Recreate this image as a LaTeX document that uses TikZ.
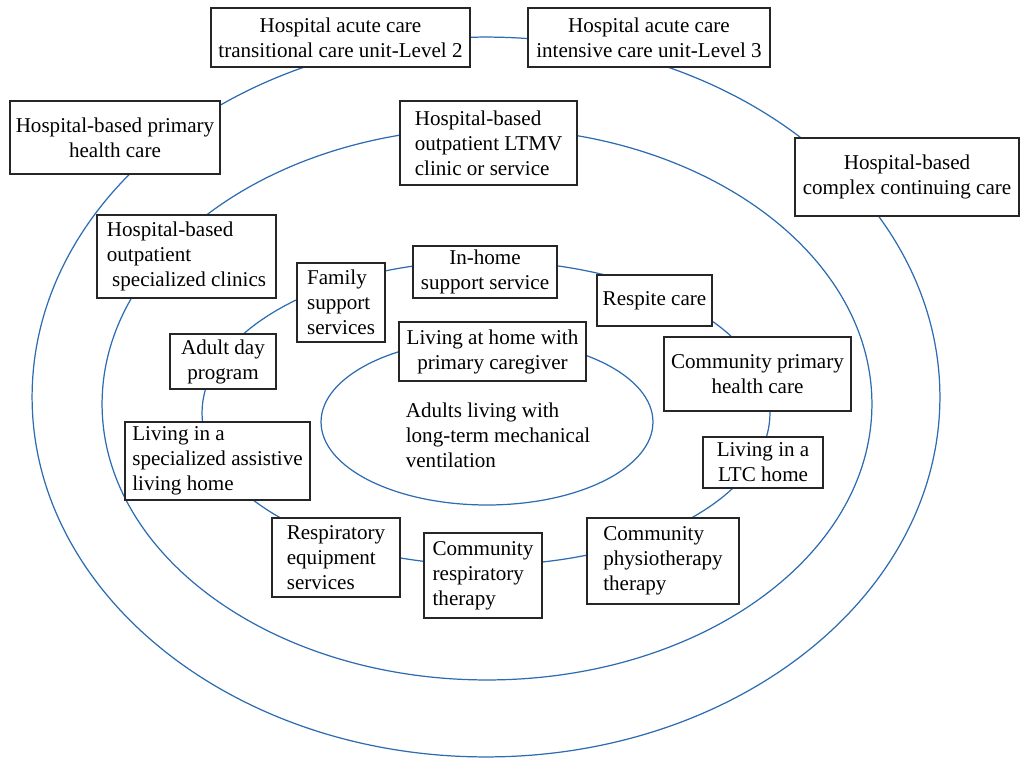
\documentclass[tikz,border=0pt]{standalone}
\usepackage{fontspec}
\setmainfont{Liberation Serif}
\usetikzlibrary{shapes.geometric}
\definecolor{ringblue}{RGB}{46,108,178}

\begin{document}
\begin{tikzpicture}[x=0.02cm,y=-0.02cm,
        font=\fontsize{12}{14.2}\selectfont,
        ring/.style={draw=ringblue,line width=0.7pt,ellipse,inner sep=0pt},
        box/.style={draw=black!85,line width=0.8pt,fill=white,inner sep=2pt}]
    \useasboundingbox (0,0) rectangle (1020,758);

    % Rings
    \node[ring,minimum width=18.16cm,minimum height=14.4cm] (outer) at (486,397) {};
    \node[ring,minimum width=15.4cm,minimum height=11.04cm] (middle) at (487,404) {};
    \node[ring,minimum width=11.36cm,minimum height=6.08cm] (circle) at (486,413) {};
    \node[ring,minimum width=6.64cm,minimum height=3.32cm] (core) at (487,422) {};

    % Outer ring
    \node[box,minimum width=5.18cm,minimum height=1.18cm,align=center] (tcu) at (340.5,37.5)
        {Hospital acute care\\transitional care unit-Level 2};
    \node[box,minimum width=4.84cm,minimum height=1.18cm,align=center] (icu) at (649,37.5)
        {Hospital acute care\\intensive care unit-Level 3};
    \node[box,minimum width=4.2cm,minimum height=1.46cm,align=center] (hpc) at (115,137.5)
        {Hospital-based primary\\health care};
    \node[box,minimum width=4.48cm,minimum height=1.56cm,align=center] (ccc) at (907,177)
        {Hospital-based\\complex continuing care};

    % Middle ring
    \node[box,minimum width=3.54cm,minimum height=1.68cm,align=left] (ltmv) at (488.5,143)
        {Hospital-based\\outpatient LTMV\\clinic or service};
    \node[box,minimum width=3.58cm,minimum height=1.66cm,align=left] (spec) at (186.5,256.5)
        {Hospital-based\\outpatient\\\ specialized clinics};

    % Inner ring
    \node[box,minimum width=1.76cm,minimum height=1.58cm,align=left] (family) at (341,302.5)
        {Family\\support\\services};
    \node[box,minimum width=2.88cm,minimum height=1.04cm,align=center] (inhome) at (485,272)
        {In-home\\support service};
    \node[box,minimum width=2.3cm,minimum height=1.02cm] (respite) at (654.5,300.5)
        {Respite care};
    \node[box,minimum width=3.74cm,minimum height=1.48cm,align=center] (cphc) at (757.5,374)
        {Community primary\\health care};
    \node[box,minimum width=2.4cm,minimum height=1.02cm,align=center] (ltc) at (763,462.5)
        {Living in a\\LTC home};
    \node[box,minimum width=3.04cm,minimum height=1.72cm,align=left] (physio) at (663,561)
        {Community\\physiotherapy\\therapy};
    \node[box,minimum width=2.36cm,minimum height=1.7cm,align=left] (crt) at (483,575.5)
        {Community\\respiratory\\therapy};
    \node[box,minimum width=2.56cm,minimum height=1.58cm,align=left] (equip) at (336,557.5)
        {Respiratory\\equipment\\services};
    \node[box,minimum width=3.7cm,minimum height=1.56cm,align=left] (sal) at (217.5,461)
        {Living in a\\specialized assistive\\living home};
    \node[box,minimum width=2.12cm,minimum height=1.1cm,align=center] (adp) at (223,361.5)
        {Adult day\\program};

    % Core
    \node[box,minimum width=3.74cm,minimum height=1.18cm,align=center] (home) at (492.5,351.5)
        {Living at home with\\primary caregiver};
    \node[align=left] (adults) at (498,435)
        {Adults living with\\long-term mechanical\\ventilation};
\end{tikzpicture}
\end{document}
